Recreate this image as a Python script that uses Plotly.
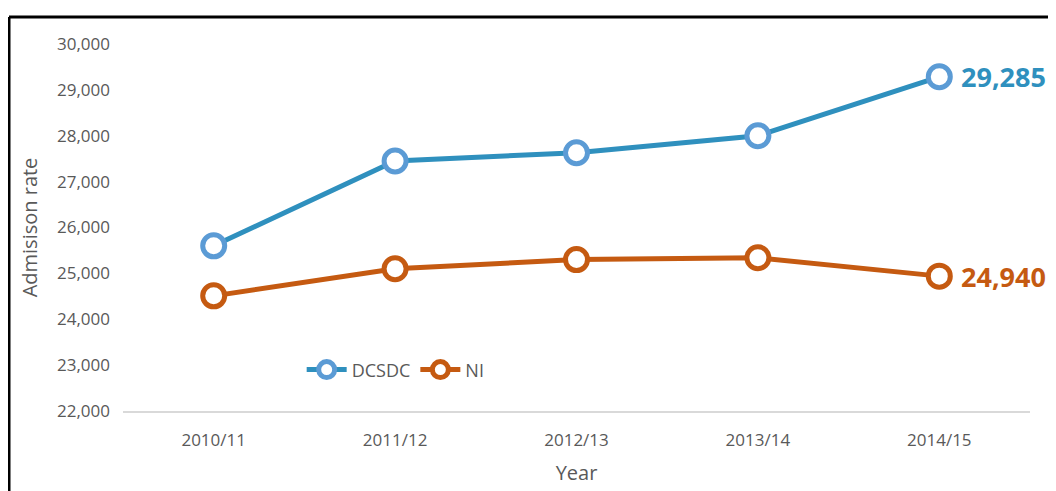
import plotly.graph_objects as go

# Data
years = ["2010/11", "2011/12", "2012/13", "2013/14", "2014/15"]
dcsdc = [25600, 27450, 27630, 28000, 29285]
ni = [24510, 25100, 25300, 25340, 24940]
y_ticks = [22000, 23000, 24000, 25000, 26000, 27000, 28000, 29000, 30000]

blue_line = "#2F90BE"
blue_marker = "#5B9BD5"
orange = "#C55A11"
grey_text = "#595959"

fig = go.Figure()

fig.add_trace(go.Scatter(
    x=years, y=dcsdc, name="DCSDC", mode="lines+markers",
    line=dict(color=blue_line, width=5),
    marker=dict(symbol="circle", size=22, color="white",
                line=dict(color=blue_marker, width=5)),
))
fig.add_trace(go.Scatter(
    x=years, y=ni, name="NI", mode="lines+markers",
    line=dict(color=orange, width=5),
    marker=dict(symbol="circle", size=22, color="white",
                line=dict(color=orange, width=5)),
))

# end-of-line value labels
for vals, col in [(dcsdc, blue_line), (ni, orange)]:
    fig.add_annotation(
        x=years[-1], y=vals[-1], text=f"<b>{vals[-1]:,}</b>",
        showarrow=False, xanchor="left", xshift=20,
        font=dict(family="Open Sans", size=27, color=col),
    )

# page body has an 8px margin, so the figure is sized/offset to fit the window
W, H = 1048, 483
L, R, T, B = 115, 26, 36, 80
pw, ph = W - L - R, H - T - B
# outer frame (top and left edges only visible)
fx0, fy0 = 1, 9
fig.add_shape(type="line", xref="paper", yref="paper",
              x0=(fx0 - L) / pw, x1=(W + 5 - L) / pw,
              y0=(H - B - fy0) / ph, y1=(H - B - fy0) / ph,
              line=dict(color="black", width=3))
fig.add_shape(type="line", xref="paper", yref="paper",
              x0=(fx0 - L) / pw, x1=(fx0 - L) / pw,
              y0=(H - B - fy0) / ph, y1=(-B - 5) / ph,
              line=dict(color="black", width=3))

fig.update_layout(
    width=W, height=H,
    margin=dict(l=L, r=R, t=T, b=B),
    plot_bgcolor="white", paper_bgcolor="white",
    font=dict(family="Open Sans", color=grey_text, size=17),
    showlegend=True,
    legend=dict(orientation="h", x=0.197, y=0.112, xanchor="left", yanchor="middle",
                bgcolor="rgba(0,0,0,0)", font=dict(size=18, color=grey_text),
                itemwidth=40, tracegroupgap=0),
    xaxis=dict(
        type="category", range=[-0.5, 4.5], automargin=False,
        showgrid=False, showline=True, linecolor="#D9D9D9", linewidth=2,
        ticks="", tickfont=dict(size=17, color=grey_text), ticklabelstandoff=13,
        title=dict(text="Year", font=dict(size=20, color=grey_text), standoff=16),
    ),
    yaxis=dict(
        range=[22000, 30000], tickvals=y_ticks, automargin=False,
        tickformat=",", showgrid=False, zeroline=False, showline=False,
        ticks="", tickfont=dict(size=17, color=grey_text), ticklabelstandoff=12,
        title=dict(text="Admisison rate", font=dict(size=20, color=grey_text), standoff=13),
    ),
)

fig.write_html("out.html")
